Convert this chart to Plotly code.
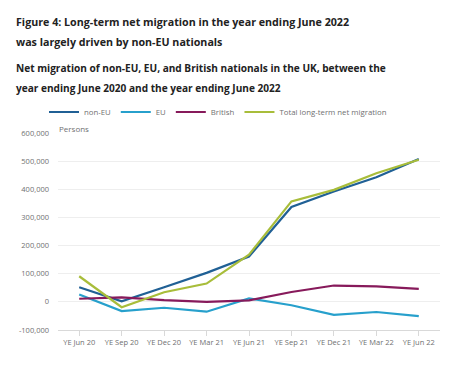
import plotly.graph_objects as go

categories = ["YE Jun 20", "YE Sep 20", "YE Dec 20", "YE Mar 21", "YE Jun 21",
              "YE Sep 21", "YE Dec 21", "YE Mar 22", "YE Jun 22"]
non_eu = [52000, 2000, 52000, 103000, 161000, 337000, 392000, 443000, 508000]
eu = [26000, -33000, -21000, -35000, 12000, -12000, -46000, -36000, -51000]
british = [11000, 16000, 6000, 0, 5000, 35000, 58000, 55000, 46000]
total = [91000, -19000, 34000, 65000, 168000, 357000, 398000, 457000, 505000]

y_ticks = [-100000, 0, 100000, 200000, 300000, 400000, 500000, 600000]
y_ticktext = ["-100,000", "0", "100,000", "200,000", "300,000", "400,000", "500,000", "600,000"]

series = [
    ("non-EU", non_eu, "#206095"),
    ("EU", eu, "#27A0CC"),
    ("British", british, "#871A5B"),
    ("Total long-term net migration", total, "#A8BD3A"),
]

fig = go.Figure()
for name, vals, col in series:
    fig.add_trace(go.Scatter(x=categories, y=vals, name=name, mode="lines",
                             line=dict(color=col, width=2.2)))

W, H = 465, 367
L, R, T, B = 58, 25, 133, 37
pw, ph = W - L - R, H - T - B

def px(x):
    return (x - L) / pw

def py(y):
    return (H - B - y) / ph

ann = []
title_font = dict(family="Open Sans", size=10.7, color="#222222")
sub_font = dict(family="Open Sans", size=10.1, color="#222222")
for txt, y, f in [
    ("<b>Figure 4: Long-term net migration in the year ending June 2022</b>", 22, title_font),
    ("<b>was largely driven by non-EU nationals</b>", 42, title_font),
    ("<b>Net migration of non-EU, EU, and British nationals in the UK, between the</b>", 68, sub_font),
    ("<b>year ending June 2020 and the year ending June 2022</b>", 88, sub_font),
]:
    ann.append(dict(text=txt, x=px(14), y=py(y), xref="paper", yref="paper",
                    xanchor="left", yanchor="middle", showarrow=False, font=f))
ann.append(dict(text="Persons", x=px(57), y=py(128), xref="paper", yref="paper",
                xanchor="left", yanchor="middle", showarrow=False,
                font=dict(family="Open Sans", size=8, color="#707071")))

fig.update_layout(
    width=W, height=H,
    margin=dict(l=L, r=R, t=T, b=B, autoexpand=False),
    paper_bgcolor="white", plot_bgcolor="white",
    font=dict(family="Open Sans", size=8, color="#707071"),
    annotations=ann,
    showlegend=True,
    legend=dict(orientation="h", x=px(44), y=py(112), xanchor="left", yanchor="middle",
                font=dict(family="Open Sans", size=7.8, color="#707071"),
                itemwidth=30, tracegroupgap=0),
    xaxis=dict(type="category", range=[-0.5, 8.5], showgrid=False,
               showline=True, linecolor="#d9d9d9", linewidth=1,
               ticks="outside", ticklen=5, tickcolor="#d9d9d9",
               tickfont=dict(size=7.5, color="#707071"), fixedrange=True),
    yaxis=dict(range=[-100000, 600000], tickvals=y_ticks, ticktext=y_ticktext,
               showgrid=True, gridcolor="#eeeeee", gridwidth=1,
               zeroline=True, zerolinecolor="#eeeeee", zerolinewidth=1,
               showline=False, ticks="", ticklabelstandoff=8,
               tickfont=dict(size=7.5, color="#707071"), fixedrange=True),
)

fig.write_html("out.html", config={"displayModeBar": False},
               post_script="document.body.style.margin='0';")
